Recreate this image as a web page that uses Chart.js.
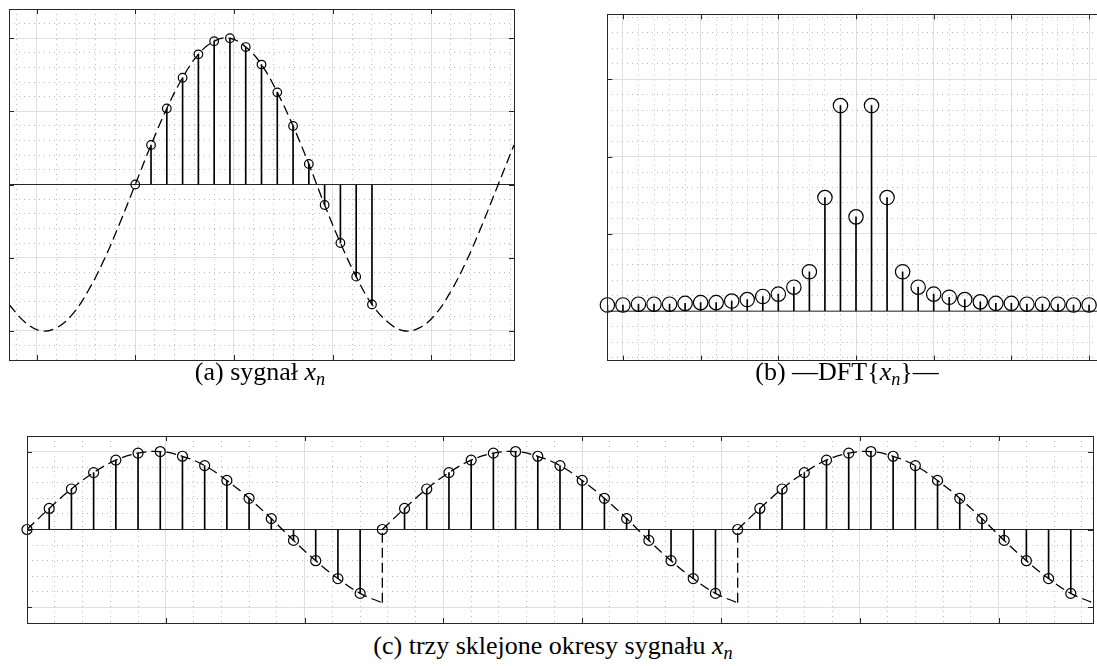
<!DOCTYPE html>
<html lang="pl">
<head>
<meta charset="utf-8">
<script src="https://cdn.jsdelivr.net/npm/chart.js@4/dist/chart.umd.min.js"></script>
<style>
    html, body { margin: 0; padding: 0; background: #fff; }
    body { width: 1097px; height: 666px; position: relative; overflow: hidden; }
    canvas { position: absolute; }
    .podpis {
        position: absolute; text-align: center; white-space: nowrap;
        font-family: "Liberation Serif", "DejaVu Serif", serif;
        font-size: 26px; line-height: 26px; color: #000;
    }
    .podpis sub { font-size: 70%; vertical-align: -0.3em; line-height: 0; }
</style>
</head>
<body>
<canvas id="wykresA" width="521" height="367" style="left:1px; top:1px;"></canvas>
<canvas id="wykresB" width="514" height="363" style="left:599px; top:6px;"></canvas>
<canvas id="wykresC" width="1082" height="203" style="left:19px; top:428px;"></canvas>

<div class="podpis" style="left:110px; width:300px; top:359px;">(a) sygnał <i>x</i><sub><i>n</i></sub></div>
<div class="podpis" style="left:697px; width:300px; top:359px;">(b) —DFT{<i>x</i><sub><i>n</i></sub>}—</div>
<div class="podpis" style="left:253px; width:600px; top:633px;">(c) trzy sklejone okresy sygnału <i>x</i><sub><i>n</i></sub></div>

<script>
// odstęp między próbkami w jednostkach osi
const T = 0.16;

// (a) próbki sygnału x_n
const probki = [0, 1, 2, 3, 4, 5, 6, 7, 8, 9, 10, 11, 12, 13, 14, 15];
const sygnal = [0, 0.27, 0.52, 0.73, 0.89, 0.98, 1.00, 0.94, 0.82, 0.63, 0.40, 0.14, -0.14, -0.40, -0.63, -0.82];

// (a) przerywana sinusoida (odczytana w chwilach próbek)
const krzywaN = [-8, -7, -6, -5, -4, -3, -2, -1, 0, 1, 2, 3, 4, 5, 6, 7, 8, 9, 10, 11, 12, 13, 14, 15, 16, 17, 18, 19, 20, 21, 22, 23, 24];
const krzywaA = [-0.82, -0.94, -1.00, -0.98, -0.89, -0.73, -0.52, -0.27, 0, 0.27, 0.52, 0.73, 0.89, 0.98, 1.00, 0.94, 0.82, 0.63, 0.40, 0.14, -0.14, -0.40, -0.63, -0.82, -0.94, -1.00, -0.98, -0.89, -0.73, -0.52, -0.27, 0, 0.27];

// (b) moduł DFT
const prazki = [-16, -15, -14, -13, -12, -11, -10, -9, -8, -7, -6, -5, -4, -3, -2, -1, 0, 1, 2, 3, 4, 5, 6, 7, 8, 9, 10, 11, 12, 13, 14, 15];
const widmo = [0.08, 0.08, 0.09, 0.09, 0.09, 0.10, 0.11, 0.11, 0.13, 0.15, 0.19, 0.22, 0.31, 0.51, 1.47, 2.66, 1.22, 2.66, 1.47, 0.51, 0.31, 0.22, 0.18, 0.15, 0.12, 0.10, 0.10, 0.09, 0.09, 0.09, 0.08, 0.08];

// (c) jeden okres przerywanej krzywej: n = 0..16
const okresN = [0, 1, 2, 3, 4, 5, 6, 7, 8, 9, 10, 11, 12, 13, 14, 15, 16];
const okresKrzywa = [0, 0.27, 0.52, 0.73, 0.89, 0.98, 1.00, 0.94, 0.82, 0.63, 0.40, 0.14, -0.14, -0.40, -0.63, -0.82, -0.94];
const liczbaOkresow = 3;

const RAMKA = '#262626';

// siatka w stylu MATLAB-a: co piąta linia główna, reszta kropkowana
function siatka(min, max, krok) {
    return (scale) => {
        const t = [];
        const k0 = Math.ceil(min / krok - 1e-6), k1 = Math.floor(max / krok + 1e-6);
        for (let k = k0; k <= k1; k++) {
            t.push({ value: +(k * krok).toFixed(6), major: k % 5 === 0 });
        }
        scale.ticks = t;
    };
}

function os(min, max, krok, pozycja) {
    return {
        type: 'linear', position: pozycja, min: min, max: max, offset: false,
        afterBuildTicks: siatka(min, max, krok),
        ticks: { display: false },
        border: { display: false, dash: (c) => (c.tick && !c.tick.major) ? [1, 4] : [] },
        grid: {
            drawTicks: false, offset: false, lineWidth: 1,
            color: (c) => (c.tick && c.tick.major) ? '#dfdfdf' : '#bcbcbc'
        }
    };
}

// ramka z krótkimi kreskami podziałki skierowanymi do środka
const ramka = {
    id: 'ramka',
    afterDraw(chart) {
        const { ctx, chartArea: a, scales } = chart;
        const px = (v) => Math.round(v) + 0.5;
        const dl = 5;
        ctx.save();
        ctx.strokeStyle = RAMKA;
        ctx.lineWidth = 1;
        ctx.beginPath();
        scales.x.ticks.filter(t => t.major).forEach(t => {
            const x = px(scales.x.getPixelForValue(t.value));
            ctx.moveTo(x, a.top); ctx.lineTo(x, a.top + dl);
            ctx.moveTo(x, a.bottom); ctx.lineTo(x, a.bottom - dl);
        });
        scales.y.ticks.filter(t => t.major).forEach(t => {
            const y = px(scales.y.getPixelForValue(t.value));
            ctx.moveTo(a.left, y); ctx.lineTo(a.left + dl, y);
            ctx.moveTo(a.right, y); ctx.lineTo(a.right - dl, y);
        });
        ctx.stroke();
        ctx.strokeRect(px(a.left), px(a.top), Math.round(a.right - a.left), Math.round(a.bottom - a.top));
        ctx.restore();
    }
};

function prazkiSet(punkty) {
    return { type: 'bar', data: punkty, backgroundColor: '#000', barThickness: 1, order: 3 };
}
function kolkaSet(punkty, r) {
    return {
        type: 'line', data: punkty, showLine: false, pointRadius: r, pointBorderWidth: 1.2,
        pointBorderColor: '#000', pointBackgroundColor: 'rgba(0,0,0,0)', clip: false, order: 1
    };
}
function liniaZera(min, max) {
    return {
        type: 'line', data: [{ x: min, y: 0 }, { x: max, y: 0 }], borderColor: RAMKA,
        borderWidth: 1, pointRadius: 0, order: 4
    };
}
function przerywana(punkty, napiecie) {
    return {
        type: 'line', data: punkty, borderColor: '#000', borderWidth: 1.3, borderDash: [10, 5],
        pointRadius: 0, tension: napiecie, spanGaps: false, order: 2
    };
}

function zrobWykres(id, zakres, datasets) {
    return new Chart(document.getElementById(id), {
        type: 'line',
        data: { datasets: datasets },
        options: {
            responsive: false,
            animation: false,
            events: [],
            layout: { padding: 8 },
            plugins: { legend: { display: false }, tooltip: { enabled: false } },
            scales: {
                x: os(zakres.xMin, zakres.xMax, zakres.xKrok, 'bottom'),
                y: os(zakres.yMin, zakres.yMax, zakres.yKrok, 'left')
            }
        },
        plugins: [ramka]
    });
}

// (a)
const zakresA = { xMin: -1.28, xMax: 3.84, xKrok: 0.2, yMin: -1.2, yMax: 1.2, yKrok: 0.1 };
const punktyA = probki.map((n, i) => ({ x: n * T, y: sygnal[i] }));
zrobWykres('wykresA', zakresA, [
    prazkiSet(punktyA),
    kolkaSet(punktyA, 4.3),
    przerywana(krzywaN.map((n, i) => ({ x: n * T, y: krzywaA[i] })), 0.4),
    liniaZera(zakresA.xMin, zakresA.xMax)
]);

// (b)
const zakresB = { xMin: -16, xMax: 16, xKrok: 1, yMin: -0.64, yMax: 3.84, yKrok: 0.2 };
const punktyB = prazki.map((k, i) => ({ x: k, y: widmo[i] }));
zrobWykres('wykresB', zakresB, [
    prazkiSet(punktyB),
    kolkaSet(punktyB, 7.2),
    liniaZera(zakresB.xMin, zakresB.xMax)
]);

// (c) trzy sklejone okresy
const N = probki.length;
const zakresC = { xMin: 0, xMax: liczbaOkresow * N * T, xKrok: 0.2, yMin: -1.2, yMax: 1.2, yKrok: 0.2 };
const punktyC = [], krzywaC = [], skokiC = [];
for (let p = 0; p < liczbaOkresow; p++) {
    probki.forEach((n, i) => punktyC.push({ x: (p * N + n) * T, y: sygnal[i] }));
    okresN.forEach((n, i) => krzywaC.push({ x: (p * N + n) * T, y: okresKrzywa[i] }));
    krzywaC.push({ x: (p + 1) * N * T, y: null });
    if (p < liczbaOkresow - 1) {
        const xs = (p + 1) * N * T;
        skokiC.push({ x: xs, y: okresKrzywa[okresKrzywa.length - 1] }, { x: xs, y: okresKrzywa[0] }, { x: xs, y: null });
    }
}
zrobWykres('wykresC', zakresC, [
    prazkiSet(punktyC),
    kolkaSet(punktyC, 5),
    przerywana(krzywaC, 0.4),
    przerywana(skokiC, 0),
    liniaZera(zakresC.xMin, zakresC.xMax)
]);
</script>
</body>
</html>
